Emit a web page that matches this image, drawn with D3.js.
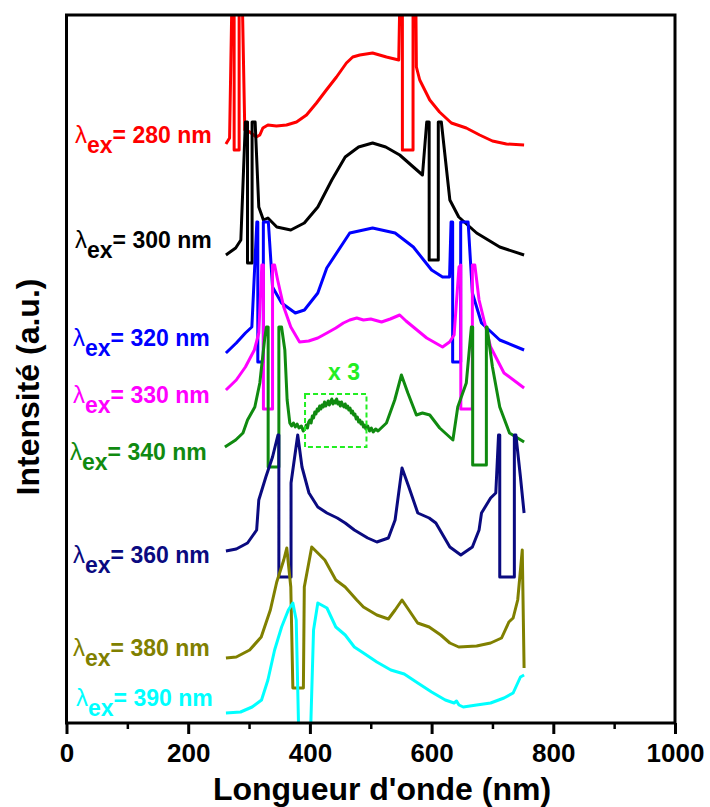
<!DOCTYPE html>
<html>
<head>
<meta charset="utf-8">
<script src="https://cdn.jsdelivr.net/npm/d3@7/dist/d3.min.js"></script>
<style>
  html, body { margin: 0; padding: 0; background: #fff; }
  svg { display: block; font-family: "Liberation Sans", Arial, sans-serif; }
</style>
</head>
<body>
<svg id="chart" width="710" height="807"></svg>
<script>
// ---- Data (wavelength nm, intensity a.u., spectra offset vertically) ----
const excitations = [280, 300, 320, 330, 340, 360, 380, 390];
const seriesColors = ["#ff0000", "#000000", "#0000ff", "#ff00ff", "#108a10", "#0a0a80", "#808000", "#00ffff"];
const xTicks = [0, 200, 400, 600, 800, 1000];
const xMinorTicks = [100, 300, 500, 700, 900];

const ex280 = [[262,579],[268,585],[272,730],[275.5,730],[275.5,573],[283.7,573],[283.7,730],[288.7,730],[293,593],[301,591],[312,586],[317.7,588],[322.7,595],[331,598],[345,597],[361.6,598],[378,601],[394.4,608],[410.8,620],[427,633],[443.7,646],[460,660],[470.4,666],[482,668],[503,670],[525.8,666],[546,663],[548,730],[552,730],[552,573],[569.5,573],[569.5,730],[574,730],[575,656],[580.5,643],[597,623],[613,611],[632.5,600],[657,595],[679,588],[700,582],[723,579],[752,578]];

const ex300 = [[262,468],[278,475],[286.5,483],[294,601],[297.5,601],[297.5,460],[305,460],[305,601],[310,601],[316,516],[323.6,503],[331,505],[345.6,496],[368.6,493],[390.8,500],[413,516],[436,543],[458,566],[480,576],[503,580],[524.6,576],[547.6,568],[570,556],[585,548],[592,601],[596,601],[596,463],[611,463],[611,601],[616,601],[630,523],[644.6,506],[674,490],[712,476],[752,468]];

const ex320 = [[262,370],[279,380],[294,390],[304.6,396],[312.8,501],[314.4,501],[314.4,361],[323.5,361],[323.5,501],[331.7,501],[338.6,436],[353.5,420],[376,410],[391,413],[413,430],[427.7,455],[465.5,490],[503,495],[540,490],[570,476],[600,453],[618,446],[629.5,446],[632,501],[634.6,501],[634.6,361],[647.8,361],[647.8,501],[656,501],[660,501],[667,430],[682,400],[712,383],[752,373]];

const ex330 = [[262,333],[279,343],[294,356],[308.7,373],[316,390],[321,458],[323.6,458],[323.6,314],[338.6,314],[338.6,458],[342,458],[347,443],[357,416],[368.6,396],[383,381],[398,382],[413,385],[428,390],[442.6,395],[455,400],[465.5,403],[477,405],[488,403],[500,404],[517.7,401],[532,404],[547.6,408],[558,402],[570,396],[592,385],[618,376],[629.5,381],[637,388],[645,456],[648,458],[648,314],[667,314],[667,458],[671,458],[678,423],[697,376],[719,350],[752,335]];

const ex340 = [[260.3,276],[278,283],[290,290],[297.5,303],[309.5,316],[317.7,340],[326,386],[328.7,396],[331.4,396],[331.4,256],[349,256],[349,396],[353.4,396],[358.8,373],[362.6,323],[367,300],[370,297],[373,300],[376,296],[379,299],[382,295],[386,297],[389,292],[391.6,294],[394,298],[396,295],[398,301],[400,303],[402,300],[404,307],[406,305],[408,311],[410,309],[412,314],[414,312],[416,317],[418,314],[420,318],[422,316],[424,321],[426,317],[428,319],[430,322],[432,318],[434,321],[436,324],[438,319],[440,322],[442,320],[444,324],[446,319],[448,321],[450,317],[452,321],[454,318],[456,316],[458,319],[460,315],[462,317],[464,313],[466,315],[468,310],[470,312],[472,308],[474,309],[476,304],[478,306],[480,301],[482,303],[484,299],[486,301],[488,296],[490,298],[492,294],[495,297],[498,292],[501,295],[504,291],[508,294],[512,292],[525.8,300],[539.4,323],[550.4,348],[561,330],[575,308],[585,310],[597,308],[613.3,295],[635,283],[643,316],[657,340],[665.4,396],[667.5,396],[667.5,258],[690,258],[690,396],[691,396],[700,356],[712,316],[728,290],[752,281]];

const ex360 = [[262,172],[279,174],[297.5,180],[312.5,193],[316,223],[327.6,246],[338.6,266],[347.5,288],[349,288],[349,146],[369,146],[369,240],[380,288],[387,256],[398.5,230],[413,216],[428,210],[445,205],[458,200],[473,193],[495,185],[510,181],[529,185],[540,203],[551.4,255],[562.6,236],[577.3,210],[596,205],[607,200],[630,176],[648,168],[667,176],[678,193],[682,210],[697,225],[705.5,230],[710,288],[712,288],[712,146],[736,146],[736,288],[738.5,288],[746,246],[752,210]];

const ex380 = [[262,65],[279,66],[301,73],[320,86],[335,113],[345.5,141],[357,163],[362,175],[368.6,136],[372,35],[389.3,35],[390.8,136],[403,176],[413,170],[424.5,163],[442.6,143],[458,136],[477,123],[488,116],[510,108],[529,104],[540,113],[551.4,123],[562.6,113],[577,100],[596,96],[615,88],[630,80],[644.6,76],[674,77],[697,80],[715,85],[727,101],[734,105],[741.5,123],[749,173],[752,55]];

const ex390 = [[262,10],[286,11],[305,16],[320.5,23],[331,43],[342,73],[353.5,96],[364.6,113],[372,120],[377.5,103],[382,-20],[400.6,-20],[406,93],[413,120],[428,115],[442.6,96],[458,88],[473,76],[488,70],[510,61],[533,53],[555,49],[577.3,40],[600,31],[622.5,23],[637,20],[641,22],[645,18],[652,16],[674,18],[697,20],[719,25],[734,30],[746,46],[752,48]];

const allSeries = [ex280, ex300, ex320, ex330, ex340, ex360, ex380, ex390];
const x3Box = [392, 493, 276, 329]; // x range (nm), y range (a.u.) of the "x 3" region

// ---- Layout ----
const W = 710, H = 807;
const margin = {left: 66.5, right: 35, top: 15, bottom: 84};
const svg = d3.select("#chart");

const x = d3.scaleLinear().domain([0, 1000]).range([margin.left, W - margin.right]);
const y = d3.scaleLinear().domain([0, 708]).range([H - margin.bottom, margin.top]);

svg.append("defs").append("clipPath").attr("id", "plotclip")
  .append("rect")
  .attr("x", x(0)).attr("y", y(708))
  .attr("width", x(1000) - x(0)).attr("height", y(0) - y(708));

const line = d3.line().x(d => x(d[0])).y(d => y(d[1]));

const curves = svg.append("g").attr("clip-path", "url(#plotclip)");
allSeries.forEach((s, i) => {
  curves.append("path")
    .datum(s)
    .attr("d", line)
    .attr("fill", "none")
    .attr("stroke", seriesColors[i])
    .attr("stroke-width", 3)
    .attr("stroke-linejoin", "round");
});

// dashed "x 3" box
svg.append("rect")
  .attr("x", x(x3Box[0])).attr("y", y(x3Box[3]))
  .attr("width", x(x3Box[1]) - x(x3Box[0]))
  .attr("height", y(x3Box[2]) - y(x3Box[3]))
  .attr("fill", "none").attr("stroke", "#22ee22")
  .attr("stroke-width", 2).attr("stroke-dasharray", "5,3");
svg.append("text")
  .attr("x", x(456)).attr("y", 380)
  .attr("text-anchor", "middle")
  .attr("font-size", 23).attr("font-weight", "bold")
  .attr("fill", "#22ee22")
  .text("x 3");

// frame
svg.append("rect")
  .attr("x", x(0)).attr("y", y(708))
  .attr("width", x(1000) - x(0)).attr("height", y(0) - y(708))
  .attr("fill", "none").attr("stroke", "#000").attr("stroke-width", 3);

// bottom axis
const axisG = svg.append("g").attr("transform", `translate(0,${y(0)})`);
axisG.call(d3.axisBottom(x).tickValues(xTicks).tickSize(11).tickFormat(d3.format("d")));
axisG.select(".domain").remove();
axisG.selectAll(".tick line").attr("stroke", "#000").attr("stroke-width", 3);
axisG.selectAll(".tick text")
  .attr("y", 39).attr("dy", null)
  .attr("font-size", 26).attr("font-weight", "bold")
  .attr("font-family", "Liberation Sans, Arial, sans-serif")
  .attr("fill", "#000");

const minorG = svg.append("g").attr("transform", `translate(0,${y(0)})`);
minorG.call(d3.axisBottom(x).tickValues(xMinorTicks).tickSize(6).tickFormat(""));
minorG.select(".domain").remove();
minorG.selectAll(".tick line").attr("stroke", "#000").attr("stroke-width", 2.5);

// axis titles
svg.append("text")
  .attr("x", 382).attr("y", 800)
  .attr("text-anchor", "middle")
  .attr("font-size", 32).attr("font-weight", "bold")
  .text("Longueur d'onde (nm)");

svg.append("text")
  .attr("transform", "translate(39,387) rotate(-90)")
  .attr("text-anchor", "middle")
  .attr("font-size", 32).attr("font-weight", "bold")
  .text("Intensité (a.u.)");

// series labels
const labelBaselines = [143, 248, 346, 403, 460, 563, 656, 706];
const labelX = [75, 75, 73, 73, 70, 73, 73, 76];
excitations.forEach((ex, i) => {
  const t = svg.append("text")
    .attr("x", labelX[i]).attr("y", labelBaselines[i])
    .attr("font-size", 23)
    .attr("fill", seriesColors[i]);
  t.append("tspan").attr("font-weight", "normal").attr("font-size", 24).text("λ");
  t.append("tspan").attr("font-weight", "bold").attr("dy", 10).text("ex");
  t.append("tspan").attr("font-weight", "bold").attr("dy", -10).text(`= ${ex} nm`);
});
</script>
</body>
</html>
